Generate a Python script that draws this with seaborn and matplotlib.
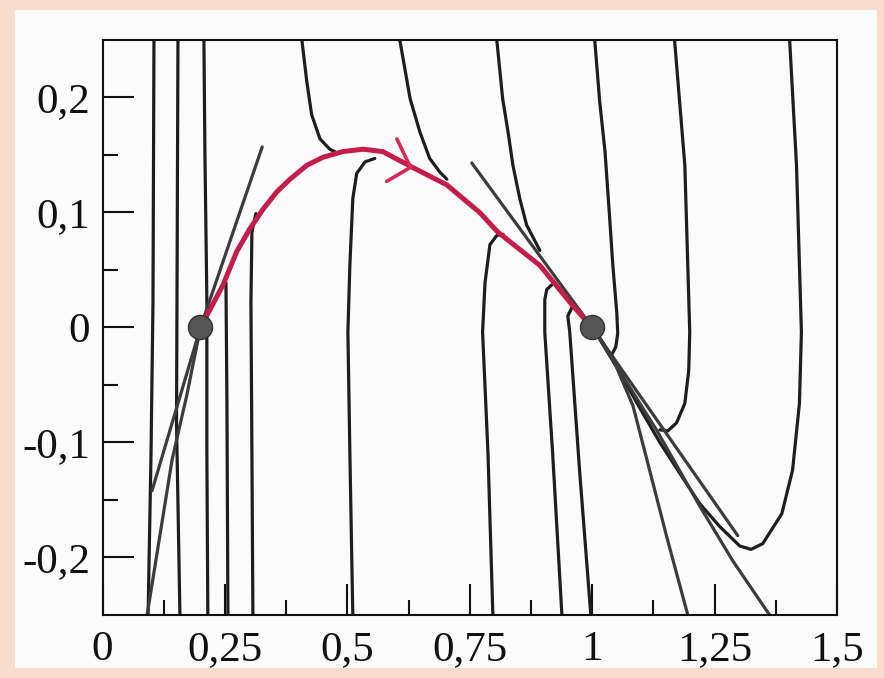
import matplotlib.pyplot as plt
import matplotlib.patches as patches
import seaborn as sns


# Phase-plane trajectories (u, u')
traj_a_x = [0.105, 0.103, 0.099, 0.093]
traj_a_y = [0.25, 0.022, -0.109, -0.25]

traj_b_x = [0.154, 0.152, 0.151, 0.154, 0.158]
traj_b_y = [0.25, 0.022, -0.083, -0.153, -0.25]

traj_c_x = [0.101, 0.2, 0.326]
traj_c_y = [-0.142, 0.0, 0.157]

traj_d_x = [0.091, 0.142, 0.172, 0.2]
traj_d_y = [-0.25, -0.115, -0.059, 0.0]

traj_e_x = [0.207, 0.209, 0.213, 0.213, 0.215]
traj_e_y = [0.25, 0.153, 0.024, -0.109, -0.25]

traj_f_x = [0.252, 0.254, 0.256]
traj_f_y = [0.039, -0.066, -0.25]

traj_g_x = [0.313, 0.305, 0.303, 0.305, 0.307]
traj_g_y = [0.099, 0.083, 0.022, -0.109, -0.25]

traj_h_x = [0.556, 0.536, 0.519, 0.511, 0.505, 0.501, 0.505, 0.511]
traj_h_y = [0.147, 0.144, 0.134, 0.112, 0.054, -0.004, -0.109, -0.25]

traj_i_x = [0.407, 0.417, 0.427, 0.444, 0.464, 0.474]
traj_i_y = [0.25, 0.214, 0.185, 0.164, 0.155, 0.153]

traj_j_x = [0.607, 0.628, 0.648, 0.668, 0.689, 0.703]
traj_j_y = [0.25, 0.199, 0.170, 0.147, 0.135, 0.129]

traj_k_x = [0.754, 1.0, 1.297]
traj_k_y = [0.143, 0.0, -0.181]

traj_l_x = [0.805, 0.817, 0.828, 0.838, 0.852, 0.866, 0.893]
traj_l_y = [0.25, 0.199, 0.170, 0.141, 0.112, 0.089, 0.067]

traj_m_x = [1.005, 1.015, 1.026, 1.036, 1.042, 1.050, 1.052, 1.048, 1.038]
traj_m_y = [0.25, 0.197, 0.153, 0.092, 0.054, 0.013, -0.005, -0.017, -0.025]

traj_n_x = [0.797, 0.787, 0.776, 0.781, 0.791, 0.805, 0.818]
traj_n_y = [-0.25, -0.109, -0.004, 0.039, 0.072, 0.080, 0.081]

traj_o_x = [0.938, 0.919, 0.903, 0.903, 0.907, 0.917]
traj_o_y = [-0.25, -0.109, -0.004, 0.024, 0.033, 0.037]

traj_p_x = [0.997, 0.974, 0.954, 0.950, 0.958]
traj_p_y = [-0.25, -0.124, -0.004, 0.010, 0.017]

traj_q_x = [1.168, 1.189, 1.199, 1.197, 1.189, 1.172, 1.154, 1.138]
traj_q_y = [0.25, 0.141, -0.004, -0.037, -0.066, -0.083, -0.090, -0.089]

traj_r_x = [1.403, 1.417, 1.427, 1.423, 1.409, 1.387, 1.348, 1.324, 1.301,
            1.260, 1.219, 1.179, 1.138, 1.097, 1.056, 1.015]
traj_r_y = [0.25, 0.141, -0.004, -0.066, -0.124, -0.162, -0.188, -0.193, -0.190,
            -0.173, -0.153, -0.127, -0.100, -0.070, -0.039, -0.010]

traj_s1_x = [1.003, 1.046, 1.083, 1.117, 1.152, 1.195]
traj_s1_y = [0.0, -0.031, -0.068, -0.124, -0.182, -0.25]

traj_s2_x = [1.015, 1.131, 1.219, 1.287, 1.362]
traj_s2_y = [-0.010, -0.089, -0.155, -0.203, -0.25]

# Hand-drawn red heteroclinic orbit between the two equilibria
red_x = [0.2, 0.246, 0.274, 0.301, 0.328, 0.356, 0.383, 0.417, 0.450, 0.491,
         0.532, 0.572, 0.634, 0.703, 0.770, 0.807, 0.893, 0.960, 1.0]
red_y = [0.0, 0.037, 0.066, 0.086, 0.103, 0.118, 0.129, 0.141, 0.148, 0.153,
         0.155, 0.153, 0.139, 0.124, 0.100, 0.083, 0.054, 0.019, 0.0]

arrow_upper_x = [0.601, 0.628]
arrow_upper_y = [0.164, 0.140]
arrow_lower_x = [0.580, 0.628]
arrow_lower_y = [0.127, 0.139]

# Equilibria
equil_x = [0.2, 1.0]
equil_y = [0.0, 0.0]

# Axis ticks
x_major = [0, 0.25, 0.5, 0.75, 1.0, 1.25, 1.5]
x_labels = ["0", "0,25", "0,5", "0,75", "1", "1,25", "1,5"]
x_minor = [0.125, 0.375, 0.625, 0.875, 1.125, 1.375]
y_major = [-0.2, -0.1, 0.0, 0.1, 0.2]
y_labels = ["-0,2", "-0,1", "0", "0,1", "0,2"]
y_minor = [-0.15, -0.05, 0.05, 0.15]

sns.set_theme(style="white")
plt.rcParams["font.family"] = ["Liberation Serif", "DejaVu Serif"]

fig = plt.figure(figsize=(8.84, 6.78), dpi=100, facecolor="#f8dccc")
# white page of the scan on a peach background
fig.patches.append(patches.Rectangle(
    (15 / 884, 10 / 678), (877 - 15) / 884, (668 - 10) / 678,
    transform=fig.transFigure, facecolor="#fbfbfc", edgecolor="none", zorder=-1,
))
ax = fig.add_axes([0.116, 0.093, 0.831, 0.848])
ax.set_facecolor("#fbfbfc")

dark_trajs = [
    (traj_a_x, traj_a_y), (traj_b_x, traj_b_y), (traj_e_x, traj_e_y),
    (traj_f_x, traj_f_y), (traj_g_x, traj_g_y), (traj_h_x, traj_h_y),
    (traj_i_x, traj_i_y), (traj_j_x, traj_j_y), (traj_l_x, traj_l_y),
    (traj_m_x, traj_m_y), (traj_n_x, traj_n_y), (traj_o_x, traj_o_y),
    (traj_p_x, traj_p_y), (traj_q_x, traj_q_y), (traj_r_x, traj_r_y),
]
grey_trajs = [
    (traj_c_x, traj_c_y), (traj_d_x, traj_d_y), (traj_k_x, traj_k_y),
    (traj_s1_x, traj_s1_y), (traj_s2_x, traj_s2_y),
]

for tx, ty in dark_trajs:
    sns.lineplot(x=tx, y=ty, sort=False, estimator=None, color="#1e1e1e",
                 linewidth=2.3, ax=ax)
for tx, ty in grey_trajs:
    sns.lineplot(x=tx, y=ty, sort=False, estimator=None, color="#3c3c3c",
                 linewidth=2.3, ax=ax)

# red orbit and its arrow
sns.lineplot(x=red_x, y=red_y, sort=False, estimator=None, color="#c41d4c",
             linewidth=3.6, ax=ax, zorder=4)
for ax_x, ax_y in [(arrow_upper_x, arrow_upper_y), (arrow_lower_x, arrow_lower_y)]:
    sns.lineplot(x=ax_x, y=ax_y, sort=False, estimator=None, color="#d42a55",
                 linewidth=2.6, ax=ax, zorder=4)

sns.scatterplot(x=equil_x, y=equil_y, s=300, color="#555555", edgecolor="#333333",
                linewidth=1, ax=ax, zorder=5)

ax.set_xlim(0, 1.5)
ax.set_ylim(-0.25, 0.25)
ax.set_xticks(x_major)
ax.set_xticklabels(x_labels)
ax.set_xticks(x_minor, minor=True)
ax.set_yticks(y_major)
ax.set_yticklabels(y_labels)
ax.set_yticks(y_minor, minor=True)
ax.set_xlabel("")
ax.set_ylabel("")

ax.tick_params(which="both", direction="in", top=False, right=False,
               bottom=True, left=True, color="#111111", width=1.5)
ax.tick_params(which="major", length=22, labelsize=31, labelcolor="#111111")
ax.tick_params(which="minor", length=10.5)
ax.tick_params(axis="x", which="major", pad=11)
ax.tick_params(axis="y", which="major", pad=9)

for spine in ax.spines.values():
    spine.set_color("#111111")
    spine.set_linewidth(1.5)

fig.savefig("out.png", dpi=100, facecolor=fig.get_facecolor())
